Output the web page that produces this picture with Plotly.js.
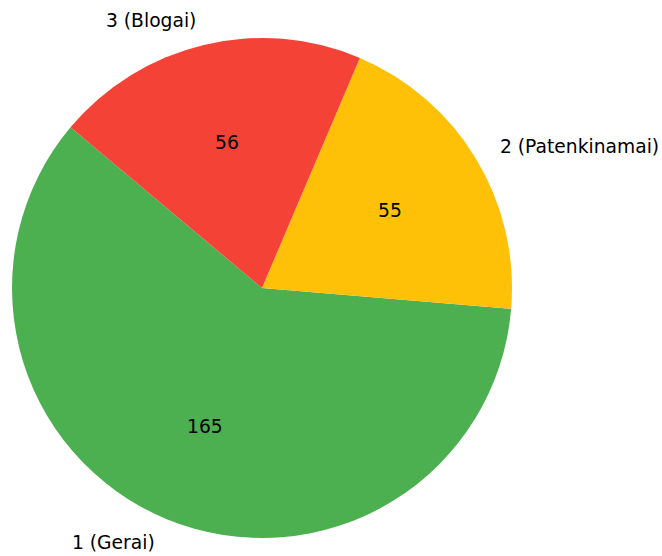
<!DOCTYPE html>
<html>
<head>
<meta charset="utf-8">
<script src="https://cdn.plot.ly/plotly-3.0.1.min.js"></script>
<style>html,body{margin:0;padding:0;background:#fff;}</style>
</head>
<body>
<div id="chart" style="width:662px;height:556px;"></div>
<script>
const labels = ["1 (Gerai)", "2 (Patenkinamai)", "3 (Blogai)"];
const values = [165, 55, 56];
const colors = ["#4CAF50", "#FFC107", "#F44336"];
const startAngle = 140; // degrees, counterclockwise from +x

const total = values.reduce((a, b) => a + b, 0);
const annotations = [];
let a = startAngle;
const font = {family: "DejaVu Sans", size: 18.7, color: "#000"};
values.forEach((v, i) => {
  const span = v / total * 360;
  const mid = (a + span / 2) * Math.PI / 180;
  const c = Math.cos(mid), s = Math.sin(mid);
  annotations.push({
    xref: "paper", yref: "paper", showarrow: false,
    x: 0.5 + 0.5 * 1.1 * c, y: 0.5 + 0.5 * 1.1 * s,
    xanchor: c < 0 ? "right" : "left", yanchor: "middle",
    text: labels[i], font: font
  });
  annotations.push({
    xref: "paper", yref: "paper", showarrow: false,
    x: 0.5 + 0.5 * 0.6 * c, y: 0.5 + 0.5 * 0.6 * s,
    xanchor: "center", yanchor: "middle",
    text: String(v), font: font
  });
  a += span;
});

// Plotly's counterclockwise mode places the END of the first slice at the rotation point
const firstEnd = startAngle + values[0] / total * 360;
let rot = -(firstEnd - 90);
while (rot < -360) rot += 360;
while (rot > 360) rot -= 360;

Plotly.newPlot("chart", [{
  type: "pie",
  labels: labels,
  values: values,
  marker: {colors: colors},
  sort: false,
  direction: "counterclockwise",
  rotation: rot,
  textinfo: "none",
  hoverinfo: "label+value",
  showlegend: false
}], {
  width: 662, height: 556,
  margin: {l: 12, r: 150, t: 38, b: 18},
  paper_bgcolor: "#fff",
  annotations: annotations,
  showlegend: false
}, {displayModeBar: false, staticPlot: true});
</script>
</body>
</html>
